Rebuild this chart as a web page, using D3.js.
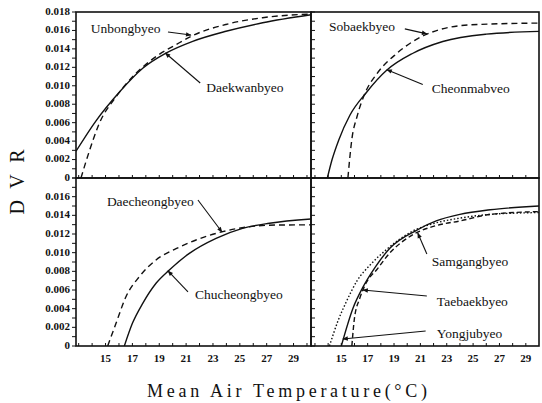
<!DOCTYPE html>
<html>
<head>
<meta charset="utf-8">
<script src="https://cdn.jsdelivr.net/npm/d3@7"></script>
<style>
body { margin: 0; background: #fff; }
text { font-family: "Liberation Serif", "Times New Roman", serif; fill: #111; }
</style>
</head>
<body>
<div class="chart"></div>
<script>
// readings: temperature (°C) and DVR
var daekwanT = [12.8, 14.29, 16.02, 17.77, 19.5, 21.49, 23.97, 26.7, 30.3];
var daekwanV = [0.0029, 0.0062, 0.0093, 0.0119, 0.01354, 0.01482, 0.01591, 0.01683, 0.0177];
var unbongT = [13.17, 13.79, 14.53, 15.78, 17.27, 18.76, 20.25, 21.49, 23.97, 26.7, 30.3];
var unbongV = [0, 0.0029, 0.0059, 0.0088, 0.01135, 0.01317, 0.01446, 0.01545, 0.01665, 0.01738, 0.01778];

var cheonmaT = [13.94, 14.3, 14.8, 15.65, 16.92, 18.46, 20.4, 22.7, 26.0, 30.0];
var cheonmaV = [0, 0.0020, 0.0041, 0.0068, 0.0093, 0.0117, 0.0135, 0.0148, 0.0156, 0.0159];
var sobaekT = [15.5, 15.8, 16.2, 16.8, 17.7, 19.2, 21.5, 24.7, 30.0];
var sobaekV = [0, 0.0042, 0.0067, 0.0092, 0.0113, 0.0135, 0.0156, 0.0166, 0.0168];

var daecheongT = [15.16, 15.78, 16.52, 17.51, 18.76, 20.25, 21.74, 23.72, 25.7, 27.7, 30.3];
var daecheongV = [0, 0.00243, 0.00528, 0.00742, 0.00922, 0.01043, 0.01136, 0.01225, 0.01278, 0.01296, 0.01298];
var chucheongT = [16.4, 17.0, 17.77, 18.76, 19.75, 21.24, 23.23, 25.2, 27.2, 30.3];
var chucheongV = [0, 0.00243, 0.00457, 0.00672, 0.00814, 0.00993, 0.01154, 0.01261, 0.01315, 0.0136];

var yongjuT = [15.0, 15.9, 16.6, 17.55, 18.7, 20.7, 22.2, 24.0, 26.3, 30.0];
var yongjuV = [0, 0.0041, 0.0062, 0.0084, 0.0105, 0.0124, 0.0134, 0.0141, 0.0146, 0.0150];
var taebaekT = [15.8, 16.0, 16.4, 16.9, 17.7, 18.7, 20.4, 22.2, 24.0, 26.3, 30.0];
var taebaekV = [0, 0.0030, 0.0051, 0.0068, 0.0082, 0.0100, 0.0119, 0.0129, 0.0134, 0.0141, 0.0144];
var samgangT = [14.1, 14.75, 15.4, 16.2, 17.2, 18.4, 20.4, 22.2, 24.0, 26.3, 30.0];
var samgangV = [0, 0.0027, 0.0048, 0.0070, 0.0087, 0.0103, 0.0123, 0.0132, 0.0137, 0.0141, 0.0143];

var yTicks = d3.range(0, 0.0181, 0.002);
var xTickLabels = [15, 17, 19, 21, 23, 25, 27, 29];

// annotations: label at (t, v), leader from (t1, v1) to (t2, v2)
var notesTL = [
    { text: "Unbongbyeo", t: 13.9, v: 0.01627, t1: 19.65, v1: 0.01583, t2: 21.36, v2: 0.0155 },
    { text: "Daekwanbyeo", t: 22.5, v: 0.0098, t1: 22.05, v1: 0.0103, t2: 19.45, v2: 0.01355 }
];
var notesTR = [
    { text: "Sobaekbyeo", t: 14.06, v: 0.01649, t1: 19.82, v1: 0.01617, t2: 21.49, v2: 0.01563 },
    { text: "Cheonmabveo", t: 21.87, v: 0.0097, t1: 21.18, v1: 0.01013, t2: 18.46, v2: 0.01175 }
];
var notesBL = [
    { text: "Daecheongbyeo", t: 15.1, v: 0.01554, t1: 21.88, v1: 0.01564, t2: 23.67, v2: 0.01221 },
    { text: "Chucheongbyeo", t: 21.66, v: 0.00557, t1: 21.14, v1: 0.00579, t2: 19.65, v2: 0.00804 }
];
var notesBR = [
    { text: "Samgangbyeo", t: 21.87, v: 0.0091, t1: 21.49, v1: 0.00986, t2: 20.8, v2: 0.0121 },
    { text: "Taebaekbyeo", t: 22.25, v: 0.00482, t1: 21.49, v1: 0.00536, t2: 16.64, v2: 0.006 },
    { text: "Yongjubyeo", t: 22.25, v: 0.00139, t1: 21.4, v1: 0.00161, t2: 15.12, v2: 0.00075 }
];

var svg = d3
    .select(".chart")
    .append("svg")
    .attr("width", 542)
    .attr("height", 403);

svg.append("defs")
    .append("marker")
    .attr("id", "arrow")
    .attr("viewBox", "0 0 10 10")
    .attr("refX", 9)
    .attr("refY", 5)
    .attr("markerWidth", 6)
    .attr("markerHeight", 5)
    .attr("orient", "auto")
    .append("path")
    .attr("d", "M0,1L10,5L0,9Z")
    .attr("fill", "#111");

var zip = (ts, vs) => ts.map((t, i) => [t, vs[i]]);

var panels = [
    { id: "tl", x0: 76, x1: 311, y0: 12, y1: 178, dom: [12.8, 30.3], left: true, bottom: false,
      series: [[zip(daekwanT, daekwanV), null], [zip(unbongT, unbongV), "6,4"]], notes: notesTL },
    { id: "tr", x0: 311, x1: 539, y0: 12, y1: 178, dom: [12.7, 30.0], left: false, bottom: false,
      series: [[zip(cheonmaT, cheonmaV), null], [zip(sobaekT, sobaekV), "6,4"]], notes: notesTR },
    { id: "bl", x0: 76, x1: 311, y0: 178, y1: 346, dom: [12.8, 30.3], left: true, bottom: true,
      series: [[zip(chucheongT, chucheongV), null], [zip(daecheongT, daecheongV), "6,4"]], notes: notesBL },
    { id: "br", x0: 311, x1: 539, y0: 178, y1: 346, dom: [12.7, 30.0], left: false, bottom: true,
      series: [[zip(yongjuT, yongjuV), null], [zip(taebaekT, taebaekV), "5,3"], [zip(samgangT, samgangV), "1.5,2"]], notes: notesBR }
];

panels.forEach((p) => {
    var x = d3.scaleLinear().domain(p.dom).range([p.x0, p.x1]);
    var y = d3.scaleLinear().domain([0, 0.018]).range([p.y1, p.y0]);
    var g = svg.append("g");

    g.append("clipPath")
        .attr("id", "clip-" + p.id)
        .append("rect")
        .attr("x", p.x0)
        .attr("y", p.y0)
        .attr("width", p.x1 - p.x0)
        .attr("height", p.y1 - p.y0);

    var line = d3
        .line()
        .x((d) => x(d[0]))
        .y((d) => y(d[1]))
        .curve(d3.curveMonotoneX);

    p.series.forEach((s) => {
        g.append("path")
            .attr("d", line(s[0]))
            .attr("clip-path", `url(#clip-${p.id})`)
            .attr("fill", "none")
            .attr("stroke", "#111")
            .attr("stroke-width", 1.4)
            .attr("stroke-dasharray", s[1]);
    });

    // y ticks: outside on left panels, inward on right panels
    var minor = d3.range(0, 0.0181, 0.001);
    g.selectAll(".yt")
        .data(minor)
        .enter()
        .append("line")
        .attr("x1", p.x0)
        .attr("x2", p.left ? p.x0 - 4 : p.x0 + 4)
        .attr("y1", (d) => y(d))
        .attr("y2", (d) => y(d))
        .attr("stroke", "#111")
        .attr("stroke-width", 1);

    if (p.left) {
        g.selectAll(".yl")
            .data(p.bottom ? yTicks.slice(0, -1) : yTicks)
            .enter()
            .append("text")
            .attr("x", p.x0 - 6)
            .attr("y", (d) => y(d) - 1)
            .attr("dy", "0.35em")
            .attr("text-anchor", "end")
            .style("font-size", "11px")
            .style("font-weight", "bold")
            .text((d) => (d === 0 ? "0" : d3.format(".3f")(d)));
    }

    // x ticks on the zero line
    g.selectAll(".xt")
        .data(d3.range(13, 31, 1).filter((d) => d > p.dom[0] && d < p.dom[1]))
        .enter()
        .append("line")
        .attr("x1", (d) => x(d))
        .attr("x2", (d) => x(d))
        .attr("y1", p.y1)
        .attr("y2", p.y1 - 3)
        .attr("stroke", "#111")
        .attr("stroke-width", 1);

    if (p.bottom) {
        g.selectAll(".xl")
            .data(xTickLabels)
            .enter()
            .append("text")
            .attr("x", (d) => x(d))
            .attr("y", p.y1 + 16)
            .attr("text-anchor", "middle")
            .style("font-size", "11px")
            .style("font-weight", "bold")
            .text((d) => d);
    }

    g.append("rect")
        .attr("x", p.x0)
        .attr("y", p.y0)
        .attr("width", p.x1 - p.x0)
        .attr("height", p.y1 - p.y0)
        .attr("fill", "none")
        .attr("stroke", "#111")
        .attr("stroke-width", 1.6);

    p.notes.forEach((n) => {
        g.append("line")
            .attr("x1", x(n.t1))
            .attr("y1", y(n.v1))
            .attr("x2", x(n.t2))
            .attr("y2", y(n.v2))
            .attr("stroke", "#111")
            .attr("stroke-width", 1.1)
            .attr("marker-end", "url(#arrow)");
        g.append("text")
            .attr("x", x(n.t))
            .attr("y", y(n.v))
            .attr("dy", "0.35em")
            .style("font-size", "13.5px")
            .text(n.text);
    });
});

svg.append("text")
    .attr("transform", "translate(24,182) rotate(-90)")
    .attr("text-anchor", "middle")
    .attr("textLength", 65)
    .attr("lengthAdjust", "spacing")
    .style("font-size", "20px")
    .text("D V R");

svg.append("text")
    .attr("x", 147)
    .attr("y", 397)
    .attr("textLength", 280)
    .attr("lengthAdjust", "spacing")
    .style("font-size", "18px")
    .text("Mean Air Temperature(°C)");
</script>
</body>
</html>
